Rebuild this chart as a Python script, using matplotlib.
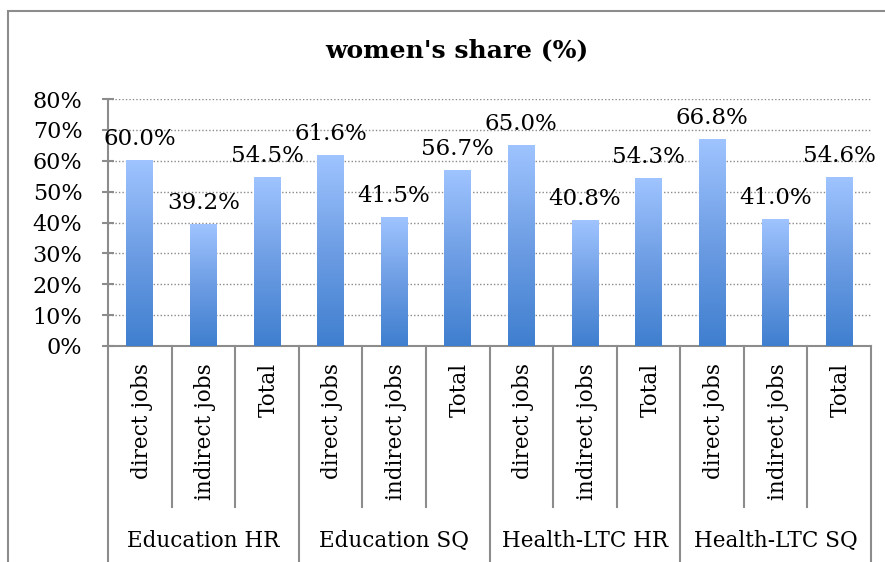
import numpy as np
import matplotlib.pyplot as plt
from matplotlib.colors import LinearSegmentedColormap
from matplotlib.patches import Rectangle
from matplotlib.lines import Line2D

groups = ["Education HR", "Education SQ", "Health-LTC HR", "Health-LTC SQ"]
subcats = ["direct jobs", "indirect jobs", "Total"]
shares = [60.0, 39.2, 54.5, 61.6, 41.5, 56.7, 65.0, 40.8, 54.3, 66.8, 41.0, 54.6]
yticks = [0, 10, 20, 30, 40, 50, 60, 70, 80]

plt.rcParams['font.family'] = ['DejaVu Serif']

fig = plt.figure(figsize=(8.85, 5.62), dpi=100)
ax = fig.add_axes([108 / 885, 1 - 346 / 562, (871 - 108) / 885, (346 - 99) / 562])

# outer chart frame
fig.patches.append(Rectangle((8 / 885, -0.1), 1.0, 1.1 - 11 / 562, transform=fig.transFigure,
                             fill=False, edgecolor="#8c8c8c", linewidth=1.5))

n = len(shares)
x = np.arange(n)
width = 0.42
bars = ax.bar(x, shares, width=width, color="none", zorder=3)

cmap = LinearSegmentedColormap.from_list("grad", ["#3f7fcf", "#6d9de4", "#9fc4ff"])
grad = np.linspace(0, 1, 256).reshape(-1, 1)
for b in bars:
    x0 = b.get_x()
    h = b.get_height()
    ax.imshow(grad, extent=[x0, x0 + b.get_width(), 0, h], origin="lower",
              cmap=cmap, aspect="auto", zorder=3)
    ax.text(x0 + b.get_width() / 2, h + 3.4, "%.1f%%" % h, ha="center", va="bottom",
            fontsize=16.5, zorder=4)

ax.set_xlim(-0.5, n - 0.5)
ax.set_ylim(0, 80)
ax.set_yticks(yticks)
ax.set_yticklabels(["%d%%" % v for v in yticks], fontsize=16)
ax.set_xticks([])
ax.grid(axis="y", linestyle=(0, (1, 1.5)), color="#8a8a8a", linewidth=1.0, zorder=0)
for s in ["top", "right"]:
    ax.spines[s].set_visible(False)
for s in ["left", "bottom"]:
    ax.spines[s].set_color("#8c8c8c")
    ax.spines[s].set_linewidth(1.5)
ax.tick_params(axis="y", direction="inout", length=9, width=1.5, color="#8c8c8c", pad=14)

# two-level category axis
trans = ax.get_xaxis_transform()
y_sub = -(507 - 346) / (346 - 99)
y_bot = -(600 - 346) / (346 - 99)
for i in range(n + 1):
    xb = i - 0.5
    y_end = y_bot if i % 3 == 0 else y_sub
    ax.add_line(Line2D([xb, xb], [0, y_end], transform=trans, color="#8c8c8c",
                       linewidth=1.5, clip_on=False))
for i in range(n):
    ax.text(x[i] + 0.03, -(363 - 346) / (346 - 99), subcats[i % 3], transform=trans,
            rotation=90, ha="center", va="top", fontsize=15.5)
for g, name in enumerate(groups):
    ax.text(g * 3 + 1, -(541 - 346) / (346 - 99), name, transform=trans,
            ha="center", va="center", fontsize=15.5)

fig.text(457 / 885, 1 - 50 / 562, "women's share (%)", ha="center", va="center",
         fontsize=18, fontweight="bold")

plt.savefig("out.png", dpi=100)
